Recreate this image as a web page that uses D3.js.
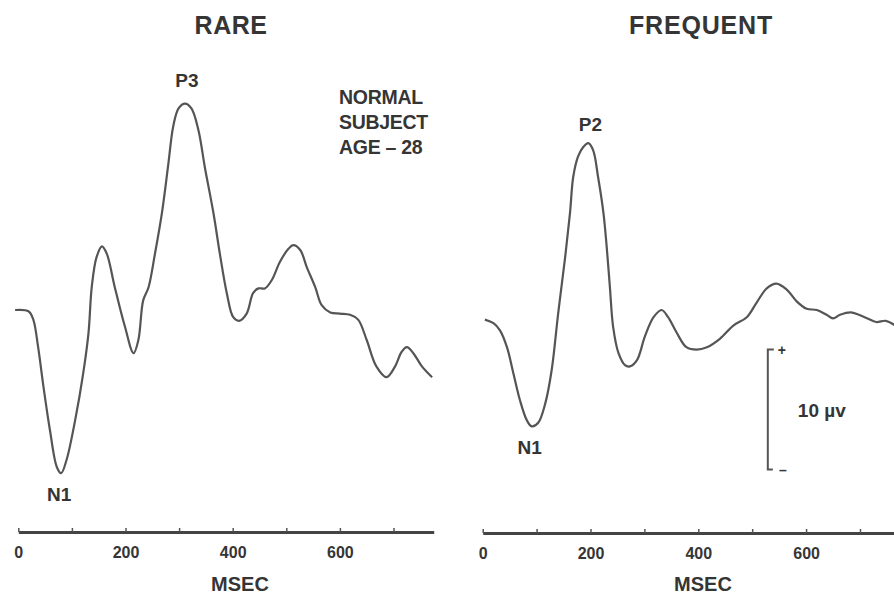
<!DOCTYPE html>
<html>
<head>
<meta charset="utf-8">
<script src="https://cdn.jsdelivr.net/npm/d3@7"></script>
<style>
  body { margin: 0; background: #fff; }
  text { font-family: "Liberation Sans", Arial, Helvetica, sans-serif; fill: #353535; }
</style>
</head>
<body>
<div id="wrapper"></div>
<script>
// time in msec, amplitude in microvolts (positive up)
const rareTime = [-6, 19, 28, 37, 47, 59, 72, 80, 90, 106, 121, 131, 137, 146, 156, 165, 180, 199, 215, 224,
  233, 243, 255, 268, 280, 289, 299, 311, 323, 336, 348, 364, 376, 389, 401, 412, 426, 438, 448, 460,
  473, 488, 504, 513, 526, 538, 554, 566, 582, 600, 619, 634, 650, 668, 687, 703, 715, 725, 737, 753, 772]
const rareAmp = [0, -0.1, -0.8, -3.1, -6.4, -10.0, -13.1, -13.6, -12.5, -9.2, -5.3, -1.9, 1.9, 4.4, 5.3, 4.7, 1.9, -1.4, -3.6, -2.5,
  0.8, 1.9, 4.7, 8.1, 12.2, 15.3, 16.8, 17.2, 16.8, 15.0, 11.9, 8.1, 4.7, 1.4, -0.6, -0.9, -0.3, 1.4, 1.8, 1.8,
  2.5, 4.0, 5.1, 5.4, 5.0, 3.6, 1.9, 0.4, -0.2, -0.3, -0.4, -0.8, -2.5, -4.7, -5.6, -4.7, -3.5, -3.1, -3.6, -4.7, -5.6]

const freqTime = [4, 20, 32, 45, 57, 69, 82, 91, 103, 116, 128, 140, 153, 162, 168, 177, 187, 196, 205, 214,
  224, 230, 236, 242, 252, 264, 273, 286, 301, 317, 332, 344, 360, 378, 397, 416, 440, 465, 490, 508,
  527, 545, 564, 583, 601, 620, 638, 650, 663, 683, 698, 714, 730, 748, 766]
const freqAmp = [-0.8, -1.1, -1.7, -3.1, -5.3, -7.5, -9.2, -9.7, -9.4, -7.8, -5.0, -0.3, 4.4, 8.1, 11.1, 12.8, 13.6, 13.9, 13.3, 11.1,
  8.1, 5.3, 1.9, -1.4, -3.6, -4.6, -4.7, -4.2, -2.2, -0.6, 0, -0.6, -1.9, -3.1, -3.3, -3.1, -2.4, -1.3, -0.6, 0.6,
  1.8, 2.2, 1.7, 0.7, 0.1, 0, -0.4, -0.7, -0.4, -0.2, -0.4, -0.7, -1.0, -0.9, -1.3]

const panelTitles = ["RARE", "FREQUENT"]
const tickValues = [0, 100, 200, 300, 400, 500, 600, 700]
const tickLabels = ["0", "", "200", "", "400", "", "600", ""]
const axisTitle = "MSEC"
const subjectLines = ["NORMAL", "SUBJECT", "AGE \u2013 28"]
// component labels: panel, name, at the curve max or min
const peakLabels = [
  { panel: 0, name: "P3", kind: "max" },
  { panel: 0, name: "N1", kind: "min" },
  { panel: 1, name: "P2", kind: "max" },
  { panel: 1, name: "N1", kind: "min" },
]
// calibration bar (microvolts) drawn in the frequent panel
const calTime = 529
const calFrom = -13.3
const calTo = -3.3
const calLabel = "10 \u00b5v"

const width = 894
const height = 594

const svg = d3.select("#wrapper")
  .append("svg")
  .attr("width", width)
  .attr("height", height)

const yScale = d3.scaleLinear()
  .domain([0, 10])
  .range([310, 190])

const panels = [
  { time: rareTime, amp: rareAmp, x: d3.scaleLinear().domain([0, 775]).range([18.3, 433.7]) },
  { time: freqTime, amp: freqAmp, x: d3.scaleLinear().domain([0, 775]).range([482.7, 900.4]) },
]

const lineGenerator = d3.line()
  .x(d => d.xs(d.t))
  .y(d => yScale(d.v))
  .curve(d3.curveCatmullRom.alpha(0.5))

panels.forEach((p, i) => {
  const pts = p.time.map((t, k) => ({ t: t, v: p.amp[k], xs: p.x }))

  // waveform
  svg.append("path")
    .attr("d", lineGenerator(pts))
    .attr("fill", "none")
    .attr("stroke", "#555")
    .attr("stroke-width", 2.2)
    .attr("stroke-linejoin", "round")

  // title
  svg.append("text")
    .attr("x", i === 0 ? 231 : 701)
    .attr("y", 34)
    .attr("text-anchor", "middle")
    .style("font-size", "25px")
    .style("font-weight", "bold")
    .style("letter-spacing", i === 0 ? "0.5px" : "0.8px")
    .text(panelTitles[i])

  // time axis
  const axisY = 532 + i
  const xAxisGenerator = d3.axisBottom(p.x)
    .tickValues(tickValues)
    .tickFormat((d, k) => tickLabels[k])
    .tickSizeInner(-4)
    .tickSizeOuter(0)
    .tickPadding(15)
  const xAxis = svg.append("g")
    .attr("transform", `translate(0, ${axisY})`)
    .call(xAxisGenerator)
  xAxis.select(".domain")
    .attr("stroke", "#444")
    .attr("stroke-width", 3)
  xAxis.selectAll(".tick line")
    .attr("stroke", "#555")
    .attr("stroke-width", 1.5)
  xAxis.selectAll(".tick text")
    .style("font-size", "16px")
    .style("font-weight", "bold")
    .attr("fill", "#3a3a3a")

  svg.append("text")
    .attr("x", i === 0 ? 240 : 703)
    .attr("y", 591)
    .attr("text-anchor", "middle")
    .style("font-size", "20px")
    .style("font-weight", "bold")
    .text(axisTitle)

  // peak labels
  peakLabels.filter(l => l.panel === i).forEach(l => {
    const idx = l.kind === "max" ? d3.maxIndex(p.amp) : d3.minIndex(p.amp)
    const px = p.x(p.time[idx])
    const py = yScale(p.amp[idx])
    svg.append("text")
      .attr("x", px + (l.kind === "max" ? 2 : -2))
      .attr("y", l.kind === "max" ? py - (i === 0 ? 17 : 12) : py + 28)
      .attr("text-anchor", "middle")
      .style("font-size", "19px")
      .style("font-weight", "bold")
      .text(l.name)
  })
})

// subject note
svg.append("g")
  .selectAll("text")
  .data(subjectLines)
  .join("text")
  .attr("x", 339)
  .attr("y", (d, k) => 104 + k * 25)
  .style("font-size", "19.5px")
  .style("font-weight", "bold")
  .style("letter-spacing", "-0.3px")
  .text(d => d)

// calibration bar
const cx = panels[1].x(calTime)
const cTop = yScale(calTo)
const cBot = yScale(calFrom)
svg.append("path")
  .attr("d", `M${cx + 6},${cTop} H${cx} V${cBot} H${cx + 5}`)
  .attr("fill", "none")
  .attr("stroke", "#555")
  .attr("stroke-width", 2)
svg.append("text")
  .attr("x", cx + 14)
  .attr("y", cTop + 5)
  .attr("text-anchor", "middle")
  .style("font-size", "14px")
  .style("font-weight", "bold")
  .text("+")
svg.append("text")
  .attr("x", cx + 15)
  .attr("y", cBot + 5)
  .attr("text-anchor", "middle")
  .style("font-size", "14px")
  .style("font-weight", "bold")
  .text("\u2013")
svg.append("text")
  .attr("x", cx + 30)
  .attr("y", (cTop + cBot) / 2 + 7)
  .style("font-size", "19px")
  .style("font-weight", "bold")
  .text(calLabel)
</script>
</body>
</html>
